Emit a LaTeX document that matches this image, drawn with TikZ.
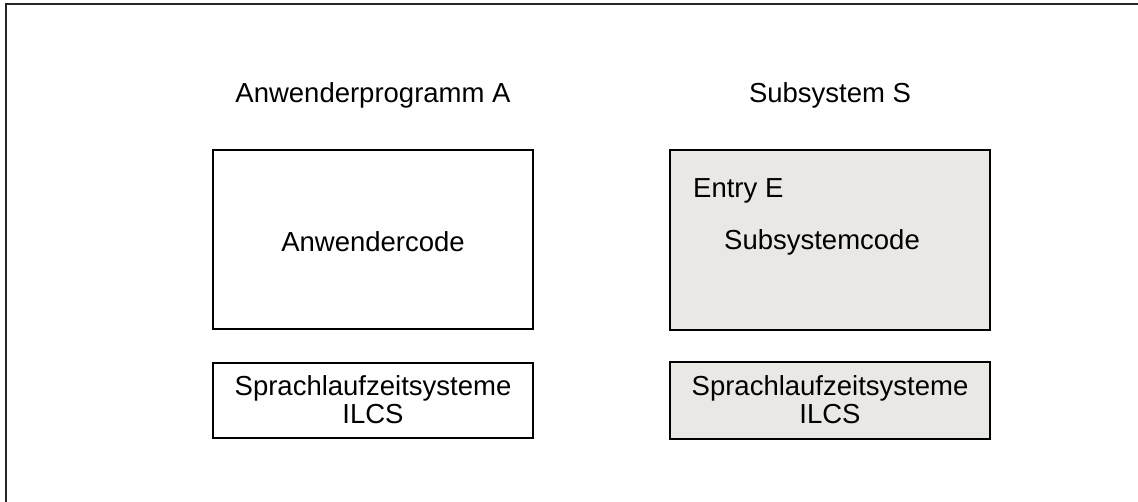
\documentclass[tikz,border=0pt]{standalone}
\usepackage{fontspec}
\setmainfont{Liberation Sans}
\definecolor{boxgrey}{RGB}{234,232,228}
\begin{document}
\begin{tikzpicture}[x=1pt,y=-1pt,
  lbl/.style={font=\fontsize{27.5}{30}\selectfont, inner sep=0pt},
  blk/.style={draw=black, line width=1.6pt},
  greyblk/.style={blk, fill=boxgrey}]
\useasboundingbox (0,0) rectangle (1138,501);
\begin{scope}
\clip (0,0) rectangle (1138,501);
\draw[line width=2pt, draw=black!85] (6,4) rectangle (1150,520);
\end{scope}
% left column
\node[lbl] (titleA) at (373,95) {Anwenderprogramm A};
\draw[blk] (213,150) rectangle (533,329);
\node[lbl] (codeA) at (373,242) {Anwendercode};
\draw[blk] (213,363) rectangle (533,438);
\node[lbl, align=center, font=\fontsize{27.5}{28}\selectfont] (ilcsA) at (373,400) {Sprachlaufzeitsysteme\\ILCS};
% right column
\node[lbl] (titleS) at (830,95) {Subsystem S};
\draw[greyblk] (670,150) rectangle (990,330);
\node[lbl, anchor=west] (entry) at (693,191) {Entry E};
\node[lbl] (codeS) at (822,242) {Subsystemcode};
\draw[greyblk] (670,362) rectangle (990,439);
\node[lbl, align=center, font=\fontsize{27.5}{28}\selectfont] (ilcsS) at (830,400) {Sprachlaufzeitsysteme\\ILCS};
\end{tikzpicture}
\end{document}
